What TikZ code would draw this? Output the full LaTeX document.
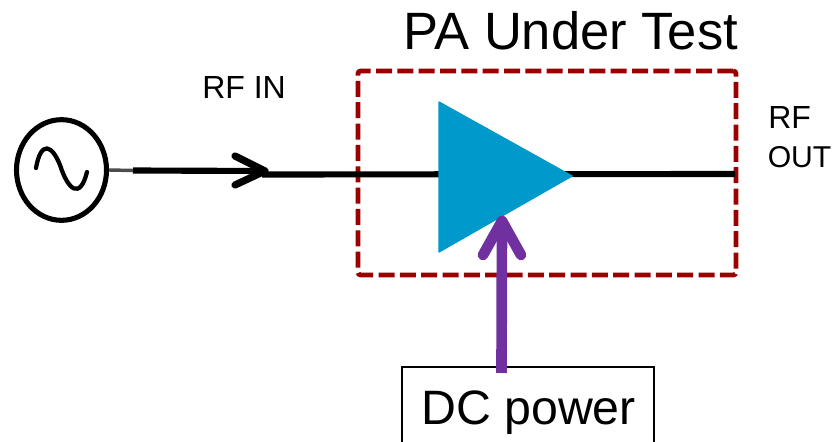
\documentclass[tikz,border=0pt]{standalone}
\usepackage{fontspec}
\setmainfont{Liberation Sans}
\usetikzlibrary{shapes.geometric}
\definecolor{boxred}{HTML}{990000}
\definecolor{paBlue}{HTML}{0099CC}
\definecolor{dcPurple}{HTML}{7030A0}
\tikzset{
  x=0.75pt,y=-0.75pt,
  wire/.style={line width=4.6pt,black},
  lead/.style={line width=2.6pt,black!70},
  head/.style={line width=5.4pt,line cap=round,line join=round},
  label/.style={inner sep=0pt,anchor=base west,align=left},
  small/.style={font=\fontsize{24}{31}\selectfont},
  big/.style={font=\fontsize{39.4}{43}\selectfont},
}
\begin{document}
\begin{tikzpicture}
\clip[use as bounding box] (0,0) rectangle (832,442);
% DUT box
\node[draw=boxred,line width=3.6pt,dash pattern=on 12pt off 4pt,rounded corners=2pt,minimum width=283.5pt,minimum height=153pt,inner sep=0pt] (dut) at (547,173) {};
% source
\node[draw,ellipse,line width=3.8pt,minimum width=67.5pt,minimum height=75.5pt,inner sep=0pt] (src) at (61.5,170) {};
\draw[line width=3.2pt,line cap=round] (36,168) .. controls (41,140) and (52,145) .. (60,165) .. controls (68,190) and (80,200) .. (87,172);
% nodes on the RF path
\coordinate (leadend) at (133,170.5);
\coordinate (tip) at (265,171);
\coordinate (barbA) at (235,156);
\coordinate (barbB) at (235,185);
\coordinate (inwire) at (262,174.5);
\coordinate (outend) at (735,174);
% wires behind amplifier
\draw[lead] (src.east) -- (leadend);
\draw[wire] (leadend) -- (tip);
\draw[wire] (inwire) -- (outend);
\draw[head] (barbA) -- (tip) -- (barbB);
% amplifier
\coordinate (pa1) at (439,102);
\coordinate (pa2) at (439,252);
\coordinate (pa3) at (572,176);
\fill[paBlue,draw=paBlue,line width=1pt,line join=round] (pa1) -- (pa2) -- (pa3) -- cycle;
% DC supply
\node[draw,line width=1.5pt,minimum width=189pt,minimum height=80pt,inner sep=0pt] (dc) at (527.5,420) {};
\node[label,font=\fontsize{36.2}{41}\selectfont] (dct) at (421,424) {DC power};
\coordinate (dcstart) at (501.5,373);
\coordinate (dctip) at (502,221);
\coordinate (dcA) at (483,255);
\coordinate (dcB) at (521,255);
\draw[dcPurple,line width=8pt] (dcstart) -- (dctip);
\draw[dcPurple,head,line width=8pt] (dcA) -- (dctip) -- (dcB);
% labels
\node[label,big] (title) at (403,50) {PA Under Test};
\node[label,small] (rfin) at (202,99) {RF IN};
\node[label,small] (rfout1) at (768,129) {RF};
\node[label,font=\fontsize{22.6}{31}\selectfont] (rfout2) at (767.5,168) {OUT};
\end{tikzpicture}
\end{document}
